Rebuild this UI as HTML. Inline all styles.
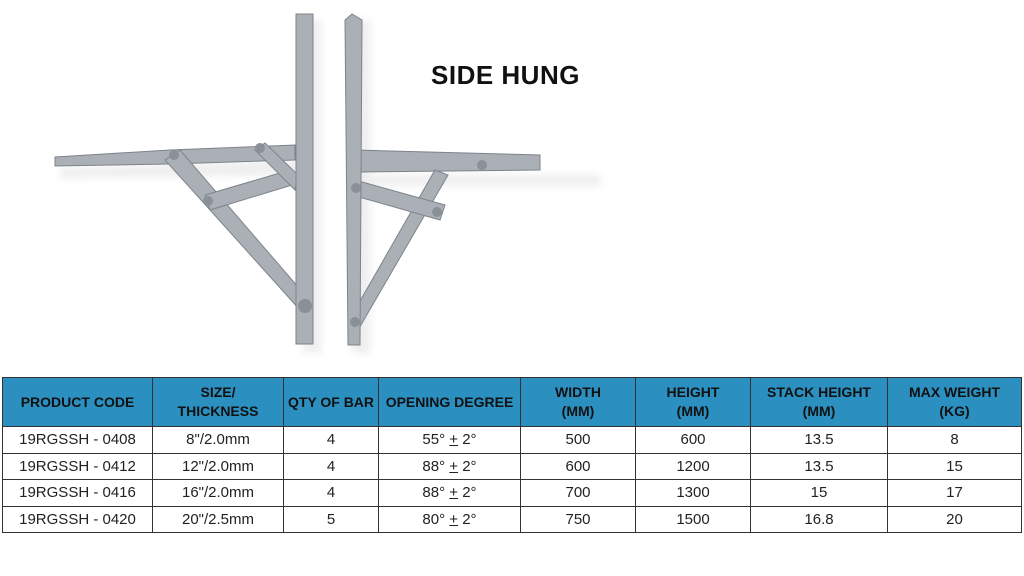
<!DOCTYPE html>
<html><head><meta charset="utf-8"><style>
body{margin:0;width:1024px;height:576px;background:#fff;position:relative;overflow:hidden;font-family:"Liberation Sans",sans-serif}
h1{position:absolute;left:431px;top:60px;margin:0;font-size:26px;font-weight:bold;color:#111;letter-spacing:0.5px}
table{position:absolute;left:2px;top:377px;width:1020px;border-collapse:collapse;table-layout:fixed}
td,th{border:1.5px solid #333;text-align:center;padding:0;font-size:15px;color:#222}
th{background:#2b8fc0;height:48px;font-size:14px;font-weight:bold;color:#111;line-height:19px}
td{height:25.5px}
svg{position:absolute;left:0;top:0}
</style></head><body>
<svg width="1024" height="370">
<defs><filter id="s"><feGaussianBlur stdDeviation="4"/></filter></defs>
<g fill="#ddd" opacity="0.5" filter="url(#s)">
<rect x="303" y="20" width="18" height="333"/><rect x="352" y="20" width="18" height="333"/>
<polygon points="60,168 300,160 300,175 60,178"/><polygon points="360,175 600,175 600,186 360,186"/>
</g>
<g fill="#aab0b6" stroke="#7d838a" stroke-width="1">
<polygon points="55,157 170,150 295,145 295,160 170,164 55,166"/>
<polygon points="165,160 180,150 305,295 300,310"/>
<polygon points="205,195 290,170 292,185 210,210"/>
<polygon points="255,150 265,143 298,175 295,190"/>
<rect x="296" y="14" width="17" height="330"/>
<polygon points="350,160 355,150 540,155 540,170 360,172"/>
<polygon points="435,170 448,175 358,330 348,322"/>
<polygon points="355,180 445,205 440,220 352,195"/>
<polygon points="345,20 352,14 362,20 360,345 348,345"/>
</g>
<g fill="#8a9097">
<circle cx="174" cy="155" r="5"/><circle cx="260" cy="148" r="5"/><circle cx="208" cy="201" r="5"/><circle cx="305" cy="306" r="7"/>
<circle cx="482" cy="165" r="5"/><circle cx="356" cy="188" r="5"/><circle cx="437" cy="212" r="5"/><circle cx="355" cy="322" r="5"/>
</g>
</svg>
<h1>SIDE HUNG</h1>
<table>
<colgroup><col style="width:150px"><col style="width:131px"><col style="width:95px"><col style="width:142px"><col style="width:115px"><col style="width:115px"><col style="width:137px"><col></colgroup>
<tr><th>PRODUCT CODE</th><th>SIZE/<br>THICKNESS</th><th>QTY OF BAR</th><th>OPENING DEGREE</th><th>WIDTH<br>(MM)</th><th>HEIGHT<br>(MM)</th><th>STACK HEIGHT<br>(MM)</th><th>MAX WEIGHT<br>(KG)</th></tr>
<tr><td>19RGSSH - 0408</td><td>8"/2.0mm</td><td>4</td><td>55° <u>+</u> 2°</td><td>500</td><td>600</td><td>13.5</td><td>8</td></tr>
<tr><td>19RGSSH - 0412</td><td>12"/2.0mm</td><td>4</td><td>88° <u>+</u> 2°</td><td>600</td><td>1200</td><td>13.5</td><td>15</td></tr>
<tr><td>19RGSSH - 0416</td><td>16"/2.0mm</td><td>4</td><td>88° <u>+</u> 2°</td><td>700</td><td>1300</td><td>15</td><td>17</td></tr>
<tr><td>19RGSSH - 0420</td><td>20"/2.5mm</td><td>5</td><td>80° <u>+</u> 2°</td><td>750</td><td>1500</td><td>16.8</td><td>20</td></tr>
</table>
</body></html>
